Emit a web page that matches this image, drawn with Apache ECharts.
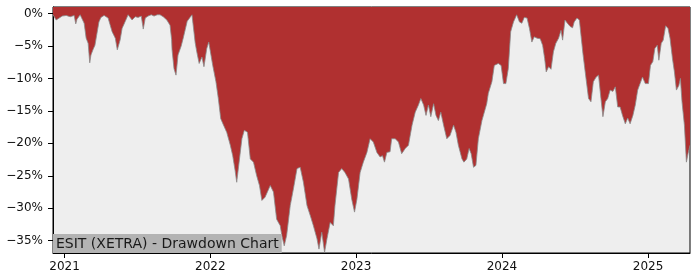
<!DOCTYPE html>
<html>
<head>
<meta charset="utf-8">
<script src="https://cdn.jsdelivr.net/npm/echarts@6/dist/echarts.min.js"></script>
<style>html,body{margin:0;padding:0;background:#fff}#c{width:700px;height:280px}</style>
</head>
<body>
<div id="c"></div>
<script>
const dates = [
'2020-12-03','2020-12-11','2020-12-16','2020-12-26','2021-01-05','2021-01-15','2021-01-25','2021-01-29','2021-02-01','2021-02-09',
'2021-02-14','2021-02-19','2021-02-24','2021-03-01','2021-03-05','2021-03-08','2021-03-13','2021-03-18','2021-03-23','2021-03-28',
'2021-04-02','2021-04-10','2021-04-15','2021-04-20','2021-04-25','2021-04-30','2021-05-08','2021-05-13','2021-05-15','2021-05-20',
'2021-05-25','2021-06-02','2021-06-09','2021-06-14','2021-06-19','2021-06-27','2021-07-04','2021-07-12','2021-07-17','2021-07-22',
'2021-07-29','2021-08-06','2021-08-13','2021-08-21','2021-08-28','2021-09-05','2021-09-14','2021-09-22','2021-09-26','2021-09-27',
'2021-10-02','2021-10-07','2021-10-12','2021-10-20','2021-10-25','2021-10-30','2021-11-04','2021-11-11','2021-11-16','2021-11-19',
'2021-11-24','2021-11-28','2021-12-04','2021-12-11','2021-12-16','2021-12-23','2021-12-28','2021-12-31','2022-01-07','2022-01-15',
'2022-01-21','2022-01-27','2022-02-03','2022-02-11','2022-02-20','2022-02-26','2022-03-04','2022-03-08','2022-03-14','2022-03-21',
'2022-03-27','2022-03-29','2022-04-04','2022-04-11','2022-04-19','2022-04-27','2022-05-04','2022-05-10','2022-05-18','2022-05-31',
'2022-06-08','2022-06-16','2022-06-25','2022-06-29','2022-07-05','2022-07-11','2022-07-20','2022-07-28','2022-08-06','2022-08-14',
'2022-08-22','2022-08-31','2022-09-08','2022-09-16','2022-09-25','2022-09-30','2022-10-07','2022-10-14','2022-10-20','2022-10-28',
'2022-11-05','2022-11-09','2022-11-18','2022-11-26','2022-12-04','2022-12-13','2022-12-21','2022-12-28','2023-01-03','2023-01-11',
'2023-01-19','2023-01-28','2023-02-05','2023-02-13','2023-02-22','2023-03-02','2023-03-08','2023-03-13','2023-03-19','2023-03-27',
'2023-03-31','2023-04-09','2023-04-17','2023-04-25','2023-05-04','2023-05-12','2023-05-21','2023-05-29','2023-06-06','2023-06-12',
'2023-06-19','2023-06-25','2023-07-01','2023-07-07','2023-07-14','2023-07-20','2023-07-26','2023-08-01','2023-08-08','2023-08-16',
'2023-08-24','2023-09-02','2023-09-08','2023-09-14','2023-09-23','2023-09-28','2023-10-05','2023-10-11','2023-10-16','2023-10-22',
'2023-10-28','2023-11-03','2023-11-12','2023-11-24','2023-11-28','2023-12-07','2023-12-13','2023-12-23','2023-12-30','2024-01-05',
'2024-01-11','2024-01-17','2024-01-23','2024-01-30','2024-02-07','2024-02-14','2024-02-20','2024-02-26','2024-03-04','2024-03-10',
'2024-03-16','2024-03-22','2024-03-29','2024-04-06','2024-04-12','2024-04-17','2024-04-21','2024-04-27','2024-05-03','2024-05-09',
'2024-05-15','2024-05-22','2024-05-28','2024-06-01','2024-06-07','2024-06-13','2024-06-20','2024-06-26','2024-06-30','2024-07-07',
'2024-07-13','2024-07-15','2024-07-22','2024-07-28','2024-08-05','2024-08-11','2024-08-17','2024-08-24','2024-08-30','2024-09-05',
'2024-09-10','2024-09-16','2024-09-22','2024-09-28','2024-10-05','2024-10-11','2024-10-17','2024-10-23','2024-10-29','2024-11-05',
'2024-11-11','2024-11-17','2024-11-24','2024-11-30','2024-12-06','2024-12-12','2024-12-18','2024-12-25','2025-01-02','2025-01-07',
'2025-01-13','2025-01-18','2025-01-24','2025-01-28','2025-02-03','2025-02-08','2025-02-14','2025-02-20','2025-02-25','2025-03-03',
'2025-03-08','2025-03-13','2025-03-19','2025-03-23','2025-03-27','2025-04-02','2025-04-07','2025-04-11','2025-04-16'
];
const drawdown = [
-0.2,-1.0,-0.8,-0.4,-0.3,-0.5,-0.3,-1.6,-0.9,-0.2,
-0.1,-1.5,-3.8,-4.6,-7.6,-6.4,-5.6,-4.9,-3.1,-1.3,
-0.6,-0.3,-0.3,-0.7,-1.0,-2.8,-3.8,-5.6,-5.5,-4.1,
-2.3,-1.2,-0.2,-0.2,-1.0,-0.5,-0.6,-0.4,-2.4,-0.7,
-0.4,-0.2,-0.4,-0.2,-0.2,-0.5,-1.0,-1.8,-4.0,-5.5,
-8.5,-9.5,-6.4,-5.0,-3.8,-2.5,-1.2,-0.6,-0.2,-1.8,
-4.5,-5.9,-7.7,-6.7,-8.2,-5.4,-4.4,-4.6,-8.0,-10.5,
-13.1,-16.2,-17.2,-18.3,-20.3,-21.9,-24.2,-26.0,-22.9,-19.3,
-18.0,-17.7,-18.3,-22.4,-22.9,-25.0,-26.5,-28.8,-28.3,-26.5,
-27.5,-31.7,-32.7,-34.2,-35.8,-34.2,-29.6,-27.0,-23.9,-23.7,
-26.0,-29.6,-31.1,-32.7,-34.7,-36.3,-33.7,-36.8,-34.7,-32.2,
-32.7,-29.6,-24.5,-23.9,-24.5,-25.5,-28.6,-30.6,-28.6,-24.5,
-22.9,-21.4,-19.3,-19.8,-21.4,-22.1,-21.9,-22.9,-21.4,-21.3,
-19.3,-19.3,-19.8,-21.6,-20.8,-20.3,-17.2,-15.2,-14.1,-13.1,
-14.1,-15.7,-14.1,-15.9,-13.9,-15.7,-16.5,-15.2,-17.2,-19.3,
-18.8,-17.2,-18.3,-20.3,-22.4,-22.9,-22.4,-20.8,-21.6,-23.7,
-23.4,-19.3,-16.5,-13.9,-12.3,-10.5,-8.0,-7.7,-8.0,-10.8,
-10.8,-8.5,-2.8,-1.3,-0.2,-1.3,-1.5,-0.6,-0.7,-2.3,
-4.4,-3.6,-3.8,-3.9,-4.9,-6.9,-9.0,-8.2,-8.6,-5.9,
-4.6,-3.8,-2.6,-4.1,-1.0,-1.5,-2.0,-2.2,-1.3,-0.7,
-1.0,-1.3,-6.2,-9.2,-13.1,-13.6,-10.5,-9.8,-9.5,-13.1,
-15.9,-13.6,-13.1,-11.8,-12.0,-11.3,-14.4,-14.4,-15.7,-17.0,
-16.1,-17.0,-15.7,-14.1,-11.8,-10.8,-9.8,-10.8,-10.8,-8.0,
-7.4,-5.4,-4.9,-7.2,-4.6,-4.1,-1.9,-2.3,-3.8,-6.9,
-9.0,-11.8,-11.1,-10.0,-13.6,-17.2,-22.9,-21.6,-20.3
];
const yearTicks = [2021, 2022, 2023, 2024, 2025];
const yTicks = [0, -5, -10, -15, -20, -25, -30, -35];
const titleText = 'ESIT (XETRA) - Drawdown Chart';

const ts = s => { const p = s.split('-').map(Number); return Date.UTC(p[0], p[1] - 1, p[2]); };
const data = dates.map((d, i) => [ts(d), drawdown[i]]);
const yearTs = yearTicks.map(y => Date.UTC(y, 0, 1));
const FONT = 'DejaVu Sans';

const chart = echarts.init(document.getElementById('c'), null, {renderer: 'canvas'});
chart.setOption({
  animation: false,
  backgroundColor: '#ffffff',
  title: {
    text: titleText,
    left: 53, bottom: 27,
    backgroundColor: '#b3b3b3',
    padding: [3, 3, 2, 3],
    textStyle: {fontFamily: FONT, fontSize: 14, fontWeight: 'normal', color: '#1a1a1a'}
  },
  grid: {left: 53, right: 10, top: 7, bottom: 27, show: true, backgroundColor: '#eeeeee', borderColor: '#000', borderWidth: 1, containLabel: false},
  xAxis: {
    type: 'value',
    min: data[0][0], max: data[data.length - 1][0],
    splitLine: {show: false},
    axisLine: {show: true, onZero: false, lineStyle: {color: '#000', width: 1}},
    axisTick: {show: true, customValues: yearTs, length: 5, lineStyle: {color: '#000'}},
    axisLabel: {customValues: yearTs, formatter: v => String(new Date(v).getUTCFullYear()), color: '#111', fontFamily: FONT, fontSize: 12, margin: 8}
  },
  yAxis: {
    type: 'value',
    min: -36.9, max: 1.0,
    splitLine: {show: false},
    axisLine: {show: true, onZero: false, lineStyle: {color: '#000', width: 1}},
    axisTick: {show: true, customValues: yTicks, length: 5, lineStyle: {color: '#000'}},
    axisLabel: {customValues: yTicks, formatter: v => (v < 0 ? '\u2212' : '') + Math.abs(v) + '%', color: '#111', fontFamily: FONT, fontSize: 12, margin: 10}
  },
  series: [{
    type: 'line',
    data: data,
    showSymbol: false,
    symbol: 'none',
    lineStyle: {color: '#8a8a8a', width: 0.8},
    areaStyle: {color: '#B03030', opacity: 1, origin: 'end'}
  }]
});
</script>
</body>
</html>
